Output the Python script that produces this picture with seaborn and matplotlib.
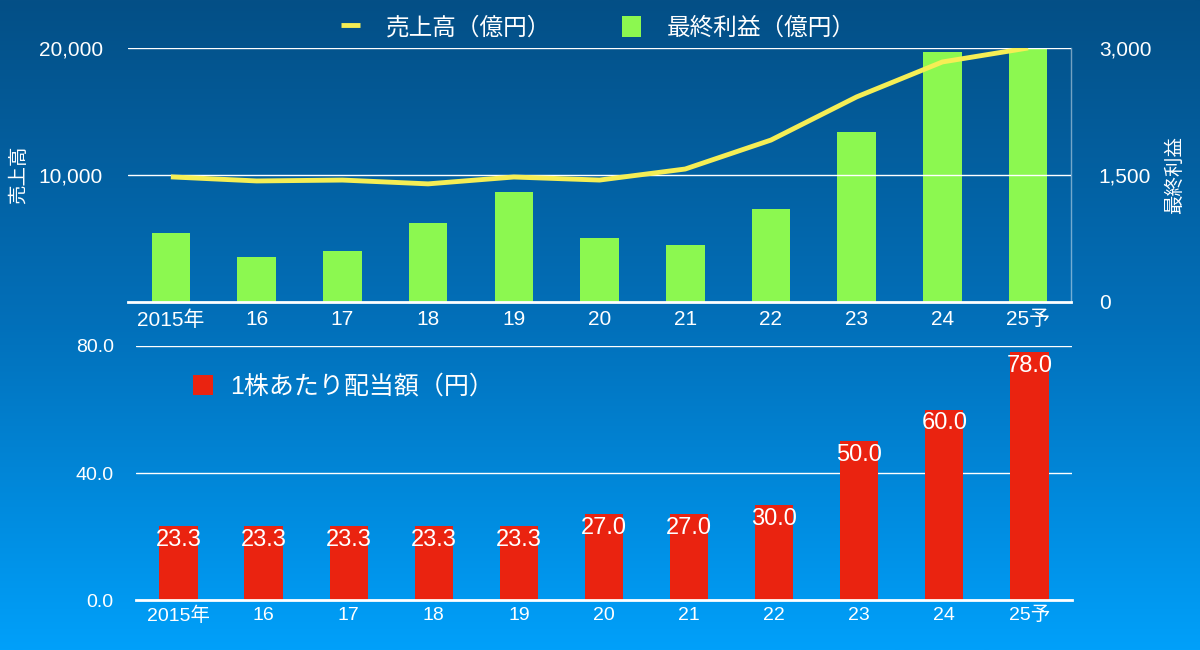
import numpy as np
import pandas as pd
import matplotlib
matplotlib.use('Agg')
import matplotlib.pyplot as plt
import seaborn as sns
from matplotlib.colors import LinearSegmentedColormap

# Datos
years = ['2015年', '16', '17', '18', '19', '20', '21', '22', '23', '24', '25予']
sales = [9850, 9530, 9600, 9300, 9840, 9600, 10470, 12750, 16150, 18900, 20000]
profit = [815, 530, 600, 930, 1300, 755, 670, 1100, 2010, 2950, 2990]
dividend = [23.3, 23.3, 23.3, 23.3, 23.3, 27.0, 27.0, 30.0, 50.0, 60.0, 78.0]

sns.set_style('white')
plt.rcParams['font.family'] = ['Liberation Sans', 'Noto Sans CJK JP', 'DejaVu Sans']

GREEN = '#8CF850'
RED = '#EA2310'
YELLOW = '#F5EE55'
GRID = (1, 1, 1, 0.45)

fig = plt.figure(figsize=(12, 6.5), dpi=100)

# Fondo degradado
bg = fig.add_axes([0, 0, 1, 1], zorder=-10)
cmap = LinearSegmentedColormap.from_list('bg', ['#044F86', '#0270BA', '#00A0FA'])
bg.imshow(np.linspace(0, 1, 256).reshape(-1, 1), aspect='auto', cmap=cmap,
          extent=[0, 1, 0, 1])
bg.axis('off')

# Panel superior: ventas (línea) y beneficio (barras)
ax1 = fig.add_axes([0.1067, 0.5354, 0.7858, 0.3908])
ax2 = ax1.twinx()

sns.barplot(x=years, y=profit, ax=ax2, color=GREEN, width=0.45, saturation=1,
            edgecolor='none', linewidth=0)
sns.lineplot(x=years, y=sales, ax=ax1, color=YELLOW, linewidth=3.5, sort=False)
ax1.set_zorder(ax2.get_zorder() + 1)
ax1.patch.set_visible(False)
ax2.patch.set_visible(False)
ax1.get_lines()[0].set_solid_capstyle('butt')

ax1.set_xlim(-0.5, 10.5)
ax1.set_ylim(0, 20000)
ax2.set_ylim(0, 3000)
ax1.set_yticks([10000, 20000])
ax1.set_yticklabels(['10,000', '20,000'])
ax2.set_yticks([0, 1500, 3000])
ax2.set_yticklabels(['0', '1,500', '3,000'])
ax1.grid(axis='y', color=GRID, linewidth=1)
ax2.grid(False)

for a in (ax1, ax2):
    for s in a.spines.values():
        s.set_visible(False)
    a.tick_params(colors='white', labelsize=15, length=0)
ax2.spines['right'].set_visible(True)
ax2.spines['right'].set_color(GRID)
ax2.spines['right'].set_linewidth(1)
ax1.spines['bottom'].set_visible(True)
ax1.spines['bottom'].set_color('white')
ax1.spines['bottom'].set_linewidth(2)
ax1.tick_params(axis='x', pad=6)
ax1.tick_params(axis='y', pad=18)
ax2.tick_params(axis='y', pad=20)
ax1.set_ylabel('売上高', color='white', fontsize=14, labelpad=8)
ax2.set_ylabel('最終利益', color='white', fontsize=14, labelpad=10)
ax1.set_xlabel('')

line_h = ax1.get_lines()[0]
bar_h = ax2.patches[0]
fig.legend([line_h, bar_h], ['売上高（億円）', '最終利益（億円）'], ncol=2,
           loc='center', bbox_to_anchor=(0.499, 0.957), frameon=False,
           fontsize=17, labelcolor='white', handlelength=0.8, handleheight=0.95,
           handletextpad=1.1, columnspacing=3.0)

# Panel inferior: dividendo por acción
ax3 = fig.add_axes([0.1133, 0.0769, 0.78, 0.3908])
ax3.patch.set_visible(False)
sns.barplot(x=years, y=dividend, ax=ax3, color=RED, width=0.45, saturation=1,
            edgecolor='none', linewidth=0, label='1株あたり配当額（円）')
ax3.set_xlim(-0.5, 10.5)
ax3.set_ylim(0, 80)
ax3.set_yticks([0, 40, 80])
ax3.set_yticklabels(['0.0', '40.0', '80.0'])
ax3.grid(axis='y', color=GRID, linewidth=1)
for s in ax3.spines.values():
    s.set_visible(False)
ax3.spines['bottom'].set_visible(True)
ax3.spines['bottom'].set_color('white')
ax3.spines['bottom'].set_linewidth(2)
ax3.tick_params(colors='white', labelsize=14, length=0)
ax3.tick_params(axis='y', pad=16)
ax3.tick_params(axis='x', pad=5)
ax3.set_xlabel('')
ax3.set_ylabel('')

for i, v in enumerate(dividend):
    ax3.annotate(f'{v:.1f}', (i, v), xytext=(0, -10), textcoords='offset points',
                 ha='center', va='center', color='white', fontsize=17)

ax3.legend(loc='center left', bbox_to_anchor=(0.061, 0.84), frameon=False,
           fontsize=18, labelcolor='white', handlelength=0.8, handleheight=0.9,
           handletextpad=0.7, borderpad=0, borderaxespad=0)

fig.savefig('out.png', dpi=100)
